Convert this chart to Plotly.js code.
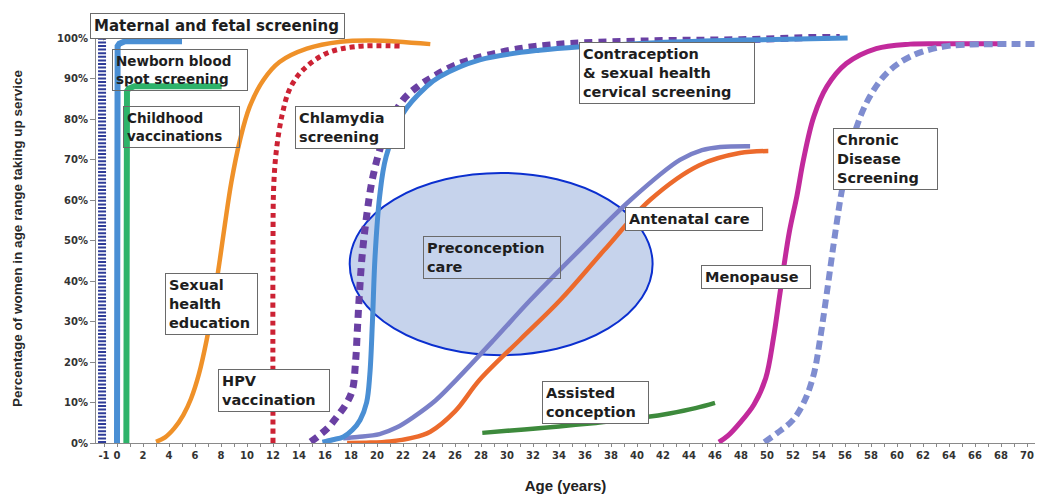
<!DOCTYPE html>
<html><head><meta charset="utf-8">
<script src="https://cdn.plot.ly/plotly-3.0.1.min.js"></script>
<style>html,body{margin:0;padding:0;background:#fff}#chart{width:1039px;height:497px}</style>
</head><body><div id="chart"></div>
<script>
// ---------- data (ages in years, % of women taking up service) ----------
const maternalX = [-1.15, -1.15];
const maternalY = [0, 100];

const newbornX = [0, 0, 0.047, 0.18, 0.38, 0.62, 5];
const newbornY = [0, 97.2, 97.98, 98.62, 99.05, 99.2, 99.2];

const childhoodX = [0.72, 0.72, 0.767, 0.9, 1.1, 1.34, 8.05];
const childhoodY = [0, 86.1, 86.88, 87.52, 87.95, 88.1, 88.1];

const sexEduX = [3, 3.7, 4.4, 5.1, 5.7, 6.3, 6.9, 7.4, 7.9, 8.3, 8.8, 9.46, 10.2, 11.25, 12.5, 14.6, 17.2, 19.7, 24.1];
const sexEduY = [0.3, 1.4, 3.6, 6.9, 11, 17, 25.5, 34.5, 45, 54, 64.5, 74.8, 83, 89.6, 94.1, 97.4, 99.1, 99.4, 98.5];

const hpvX = [12, 12, 12.05, 12.25, 12.7, 13.3, 14.3, 16.1, 18.4, 21.8];
const hpvY = [0, 50, 63, 72, 81, 87.5, 92.1, 96.2, 97.9, 98];

const chlamydiaX = [14.9, 15.6, 16.3, 16.9, 17.6, 18.1, 18.35, 18.5, 18.65, 18.85, 19.2, 19.7, 20.6, 22, 23.3, 24.3, 26, 29.5, 33.3, 41, 48, 55.6];
const chlamydiaY = [0.3, 2, 4, 6.4, 9.5, 13, 20, 28.6, 37, 46, 56, 66, 76, 84.7, 88.4, 90.4, 93.3, 96.5, 98.3, 99.3, 99.6, 100.4];

const contraX = [15.8, 16.6, 17.4, 18.1, 18.7, 19.2, 19.45, 19.65, 19.85, 20.2, 20.7, 22, 23.8, 24.8, 27.9, 32.5, 41, 48, 56.2];
const contraY = [0.2, 0.8, 1.5, 3.2, 5.7, 10, 17, 30, 46, 60.8, 70.7, 81.4, 88, 90.4, 94.6, 97, 98.8, 99.5, 100];

const preconX = [17.4, 18.5, 20.2, 21.5, 22.8, 24.5, 26.1, 29, 31.8, 35.6, 39.5, 43.3, 45, 46.4, 48.7];
const preconY = [1.2, 1.5, 2.2, 3.8, 6.4, 10.5, 15.6, 25.5, 35.3, 47.7, 60, 69.9, 72.3, 73.1, 73.3];

const antenatalX = [17.7, 19.5, 21, 22.6, 24.1, 26, 27.9, 31, 34.1, 37.5, 41, 44.8, 47.9, 50.1];
const antenatalY = [0, 0.1, 0.4, 1.2, 2.8, 7.8, 15.6, 25.5, 35.3, 47.7, 60, 68.6, 71.6, 72.1];

const assistedX = [28.1, 30, 32, 34, 36.6, 38.5, 40.7, 42.5, 44.5, 46];
const assistedY = [2.5, 3, 3.5, 4.1, 4.9, 5.6, 6.4, 7.3, 8.6, 9.9];

const menopauseX = [46.3, 47, 47.9, 49, 49.9, 50.5, 51, 51.7, 52.3, 52.8, 53.6, 54.6, 56.1, 58.4, 61, 63.8, 67.9];
const menopauseY = [0.2, 1.8, 4.9, 9.5, 16, 26, 37, 51.8, 61, 69.9, 80.6, 88, 93.7, 97.4, 98.5, 98.6, 98.6];

const chronicX = [49.8, 50.8, 52, 52.9, 53.6, 54.1, 54.6, 55.3, 55.8, 56.4, 56.9, 57.9, 59.2, 61, 63.6, 67.4, 70.7];
const chronicY = [0.2, 2.5, 5.7, 10.5, 17, 26, 37, 53, 63, 71, 78.1, 85.5, 91.3, 95.4, 97.9, 98.5, 98.5];

// preconception care highlight ellipse (age / % extent)
const ellipseAge = [17.9, 41.2];
const ellipsePct = [21.7, 66.7];

// tick labels
const xTickVals = [-1, 0, 2, 4, 6, 8, 10, 12, 14, 16, 18, 20, 22, 24, 26, 28, 30, 32, 34, 36, 38, 40, 42, 44, 46, 48, 50, 52, 54, 56, 58, 60, 62, 64, 66, 68, 70];
const xTickText = ['-1', '0', '2', '4', '6', '8', '10', '12', '14', '16', '18', '20', '22', '24', '26', '28', '30', '32', '34', '36', '38', '40', '42', '44', '46', '48', '50', '52', '54', '56', '58', '60', '62', '64', '66', '68', '70'];
const yTickVals = [0, 10, 20, 30, 40, 50, 60, 70, 80, 90, 100];
const yTickText = ['0%', '10%', '20%', '30%', '40%', '50%', '60%', '70%', '80%', '90%', '100%'];

// label boxes
const labelTexts = [
  'Maternal and fetal screening',
  'Newborn blood<br>spot screening',
  'Childhood<br>vaccinations',
  'Chlamydia<br>screening',
  'Sexual<br>health<br>education',
  'HPV<br>vaccination',
  'Preconception<br>care',
  'Contraception<br>&amp; sexual health<br>cervical screening',
  'Antenatal care',
  'Menopause',
  'Chronic<br>Disease<br>Screening',
  'Assisted<br>conception'
];

// ---------- layout helpers (pixel placement of label boxes, paper coords) ----------
const ML = 96, MT = 34, PW = 939, PH = 409, PB = MT + PH;
const paperX = px => (px - ML) / PW;
const paperY = py => (PB - py) / PH;
// [left, top, right, fontSize, bg]
const boxGeom = [
  [90, 13, 345, 15, 'white'],
  [112, 49, 248, 13.5, 'rgba(0,0,0,0)'],
  [123, 106, 240, 13.5, 'rgba(0,0,0,0)'],
  [295, 106, 405, 14.5, 'white'],
  [165, 273, 258, 14.5, 'white'],
  [218, 369, 330, 14.5, 'white'],
  [423, 236, 561, 14.5, 'rgba(0,0,0,0)'],
  [579, 42, 755, 14.5, 'white'],
  [625, 207, 763, 14.5, 'white'],
  [701, 265, 811, 14.5, 'white'],
  [833, 128, 938, 14.5, 'white'],
  [542, 381, 649, 14.5, 'white']
];

const annotations = labelTexts.map((t, i) => {
  const g = boxGeom[i];
  return {
    text: t, xref: 'paper', yref: 'paper', x: paperX(g[0]), y: paperY(g[1]),
    xanchor: 'left', yanchor: 'top', align: 'left', showarrow: false,
    width: g[2] - g[0] - 8,
    font: {family: 'DejaVu Sans', size: g[3], color: '#1e1e1e', weight: 700},
    bgcolor: g[4], bordercolor: '#6a6a6a', borderwidth: 1, borderpad: 3
  };
});

function tr(x, y, color, width, dash, shape) {
  return {
    x: x, y: y, type: 'scatter', mode: 'lines', hoverinfo: 'skip', showlegend: false,
    line: {color: color, width: width, dash: dash || 'solid', shape: shape || 'spline', smoothing: 1}
  };
}

const traces = [
  tr(maternalX, maternalY, '#2f3c98', 8, '2px,1.6px', 'linear'),
  tr(newbornX, newbornY, '#4a8fd4', 6, 'solid', 'linear'),
  tr(childhoodX, childhoodY, '#2eb36a', 6, 'solid', 'linear'),
  tr(sexEduX, sexEduY, '#ef9129', 4.5),
  tr(hpvX, hpvY, '#cc2234', 5, '5px,4px'),
  tr(antenatalX, antenatalY, '#ec6a2c', 4.5),
  tr(preconX, preconY, '#7a80c8', 4.5),
  tr(assistedX, assistedY, '#3d8a3c', 4.5),
  tr(chlamydiaX, chlamydiaY, '#6a40a3', 7, '8px,6px'),
  tr(contraX, contraY, '#4a8fd4', 5),
  tr(menopauseX, menopauseY, '#c22a9c', 5),
  tr(chronicX, chronicY, '#7f8dd0', 6, '9px,5px')
];

const layout = {
  width: 1039, height: 497,
  margin: {l: ML, r: 1039 - ML - PW, t: MT, b: 497 - PB},
  paper_bgcolor: '#fff', plot_bgcolor: '#fff',
  showlegend: false,
  font: {family: 'DejaVu Sans', color: '#333'},
  xaxis: {
    range: [-21 / 13, -21 / 13 + PW / 13],
    tickmode: 'array', tickvals: xTickVals, ticktext: xTickText,
    ticks: 'outside', ticklen: 3, tickcolor: '#888',
    minor: {tickmode: 'linear', tick0: 0, dtick: 1, ticks: 'outside', ticklen: 3, tickcolor: '#888'},
    showline: true, linecolor: '#8a8a8a', linewidth: 1,
    showgrid: false, zeroline: false,
    tickfont: {family: 'DejaVu Sans', size: 10, color: '#333', weight: 700},
    title: {text: 'Age (years)', standoff: 20, font: {family: 'Liberation Sans', size: 15, color: '#222', weight: 700}},
    automargin: false, fixedrange: true
  },
  yaxis: {
    range: [0, 101],
    tickmode: 'array', tickvals: yTickVals, ticktext: yTickText,
    ticks: 'outside', ticklen: 5, tickcolor: '#888',
    showline: true, linecolor: '#8a8a8a', linewidth: 1,
    showgrid: false, zeroline: false,
    tickfont: {family: 'DejaVu Sans', size: 10, color: '#333', weight: 700},
    title: {text: 'Percentage of women in age range taking up service', standoff: 31,
            font: {family: 'Liberation Sans', size: 13.5, color: '#2a2a2a', weight: 700}},
    automargin: false, fixedrange: true
  },
  shapes: [{
    type: 'circle', xref: 'x', yref: 'y', layer: 'below',
    x0: ellipseAge[0], x1: ellipseAge[1], y0: ellipsePct[0], y1: ellipsePct[1],
    fillcolor: '#c6d3ec', line: {color: '#0b2fcf', width: 2}
  }, {
    type: 'line', xref: 'paper', yref: 'paper',
    x0: paperX(103), y0: paperY(40), x1: paperX(112), y1: paperY(35),
    line: {color: '#555', width: 1}
  }],
  annotations: annotations
};

Plotly.newPlot('chart', traces, layout, {displayModeBar: false, staticPlot: true});
</script>
</body></html>
